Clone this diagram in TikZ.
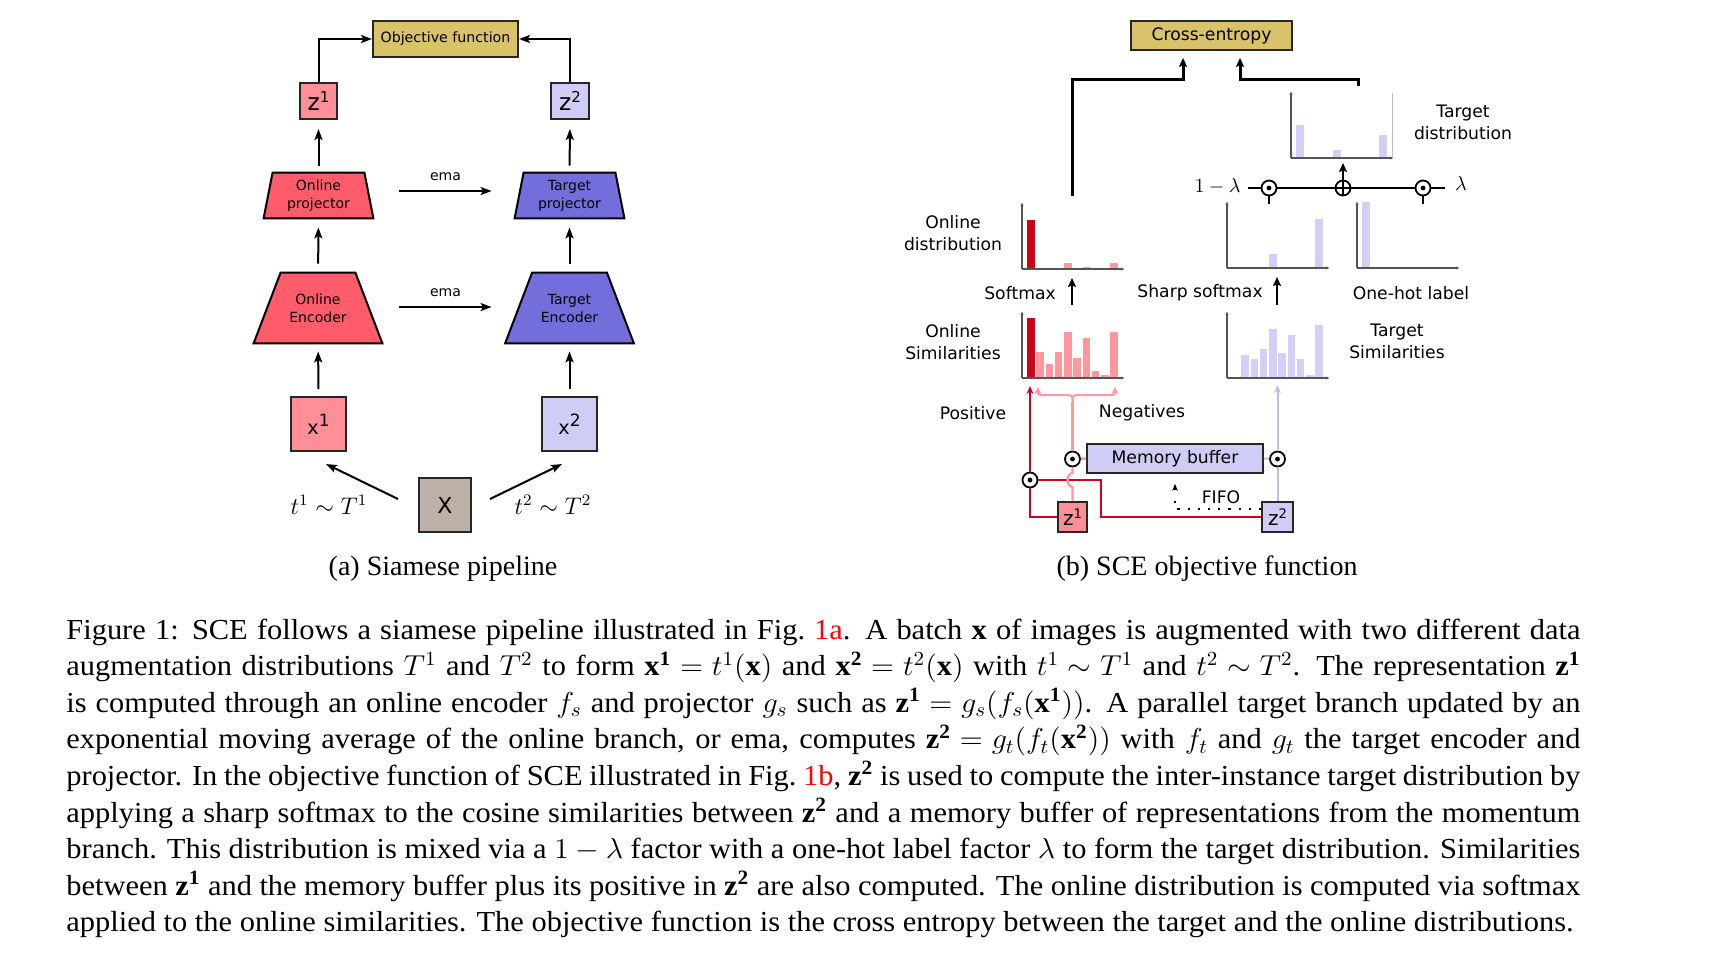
\documentclass[tikz,border=0pt]{standalone}
\usepackage{fontspec}
\setmainfont{Liberation Serif}
\newfontfamily\dvsans{DejaVu Sans}
\usetikzlibrary{arrows.meta,calc,backgrounds}
\definecolor{tanc}{RGB}{217,195,106}
\definecolor{pinkc}{RGB}{255,143,150}
\definecolor{lavc}{RGB}{207,205,245}
\definecolor{redtrap}{RGB}{255,92,107}
\definecolor{bluetrap}{RGB}{116,109,220}
\definecolor{grayc}{RGB}{188,176,168}
\definecolor{darkred}{RGB}{208,2,27}
\definecolor{lightred}{RGB}{255,152,158}
\definecolor{lavline}{RGB}{190,188,238}
\definecolor{lavbar}{RGB}{210,208,246}
\definecolor{axisc}{RGB}{85,85,85}
\newcommand\supr[3]{\raisebox{#2}{\fontsize{#1}{#1}\selectfont #3}}
\newcommand\drawbars[4]{\foreach \bi/\bh in {#4}{\fill[#3] ({#1+5+\bi*9.26},#2) rectangle ++(7.5,-\bh);}}
\newcommand\plotaxes[2]{\draw[axisl] (#1,#2) -- ++(0,-67); \draw[axisl] (#1,#2) -- ++(103,0);}
\tikzset{
  sbox/.style={draw=black!85, line width=1pt, inner sep=0pt, font=\dvsans\fontsize{7.1}{8.5}\selectfont},
  rbox/.style={draw=black!85, line width=0.9pt, inner sep=0pt, font=\dvsans\fontsize{8.6}{10}\selectfont},
  trapl/.style={inner sep=0pt, align=center, font=\dvsans\fontsize{7}{9}\selectfont},
  trapd/.style={draw=black, line width=1pt},
  arr/.style={line width=1pt, -{Stealth[length=5.5pt,width=4pt,inset=1.2pt]}},
  bigarr/.style={line width=1.5pt, -{Stealth[length=4.5pt,width=4pt,inset=0.8pt]}},
  medarr/.style={line width=1.3pt, -{Stealth[length=4.5pt,width=4pt,inset=0.8pt]}},
  axisl/.style={line width=0.55pt, draw=axisc, -{Latex[length=2pt,width=1.6pt]}},
  lbl/.style={inner sep=0pt, align=center, font=\dvsans\fontsize{8.6}{11}\selectfont},
  odot/.style={circle, draw, line width=0.9pt, fill=white, minimum size=7.5pt, inner sep=0pt,
    path picture={\fill[black] (path picture bounding box.center) circle (1.2pt);}},
  oplus/.style={circle, draw, line width=0.9pt, fill=white, minimum size=7.5pt, inner sep=0pt,
    path picture={\draw[black, line width=0.7pt] (path picture bounding box.north) -- (path picture bounding box.south) (path picture bounding box.west) -- (path picture bounding box.east);}},
  redl/.style={draw=darkred, line width=1.2pt},
  pinkl/.style={draw=lightred, line width=1.2pt},
  lavl/.style={draw=lavline, line width=1pt},
}
\begin{document}
\begin{tikzpicture}[x=0.5pt,y=-0.5pt]
\useasboundingbox (0,0) rectangle (1734,960);

% ================= (a) Siamese pipeline =================
\node[sbox, fill=tanc, minimum width=72.5pt, minimum height=18pt] (obj) at (445.5,39) {Objective function};
\node[sbox, fill=pinkc, minimum width=18.5pt, minimum height=18pt, font=\dvsans\fontsize{11.7}{12}\selectfont] (z1) at (318.5,101) {z\supr{7.5}{4pt}{1}};
\node[sbox, fill=lavc, minimum width=19pt, minimum height=18pt, font=\dvsans\fontsize{11.7}{12}\selectfont] (z2) at (570,101) {z\supr{7.5}{4pt}{2}};
\node[trapl, minimum width=54.5pt, minimum height=22.5pt] (proj1) at (318.5,195.5) {Online\\projector};
\node[trapl, minimum width=54.5pt, minimum height=22.5pt] (proj2) at (569.5,195.5) {Target\\projector};
\node[trapl, minimum width=64pt, minimum height=35pt] (enc1) at (318,308) {Online\\Encoder};
\node[trapl, minimum width=64pt, minimum height=35pt] (enc2) at (569.5,308) {Target\\Encoder};
\begin{scope}[on background layer]
\draw[trapd, fill=redtrap] (proj1.south west) -- (proj1.south east) -- ([xshift=-4.5pt]proj1.north east) -- ([xshift=4.5pt]proj1.north west) -- cycle;
\draw[trapd, fill=bluetrap] (proj2.south west) -- (proj2.south east) -- ([xshift=-4.5pt]proj2.north east) -- ([xshift=4.5pt]proj2.north west) -- cycle;
\draw[trapd, fill=redtrap] (enc1.south west) -- (enc1.south east) -- ([xshift=-13.5pt]enc1.north east) -- ([xshift=13.5pt]enc1.north west) -- cycle;
\draw[trapd, fill=bluetrap] (enc2.south west) -- (enc2.south east) -- ([xshift=-13.5pt]enc2.north east) -- ([xshift=13.5pt]enc2.north west) -- cycle;
\end{scope}
\node[sbox, fill=pinkc, minimum width=27.5pt, minimum height=27pt, font=\dvsans\fontsize{9.6}{11}\selectfont] (x1) at (318.5,424) {x\supr{8.5}{3.8pt}{1}};
\node[sbox, fill=lavc, minimum width=27.5pt, minimum height=27pt, font=\dvsans\fontsize{9.6}{11}\selectfont] (x2) at (569.5,424) {x\supr{8.5}{3.8pt}{2}};
\node[sbox, fill=grayc, minimum width=26pt, minimum height=27pt, font=\dvsans\fontsize{11}{12}\selectfont] (X) at (445,505) {X};

\draw[arr] (z1.north) |- (obj.west);
\draw[arr] (z2.north) |- (obj.east);
\draw[arr, shorten <=3.5pt, shorten >=4.5pt] (proj1) -- (z1);
\draw[arr, shorten <=3.5pt, shorten >=4.5pt] (proj2) -- (z2);
\draw[arr, shorten <=4.5pt, shorten >=4.5pt] (enc1) -- (proj1);
\draw[arr, shorten <=4.5pt, shorten >=4.5pt] (enc2) -- (proj2);
\draw[arr, shorten <=3.5pt, shorten >=4pt] (x1) -- (enc1);
\draw[arr, shorten <=3.5pt, shorten >=4pt] (x2) -- (enc2);
\draw[arr] ([xshift=13pt,yshift=2.25pt]proj1.east) -- ([xshift=-11.5pt,yshift=2.25pt]proj2.west)
  node[midway, above=4.5pt, inner sep=0pt, font=\dvsans\fontsize{7}{8}\selectfont] (ema1) {ema};
\draw[arr] ([xshift=8.5pt,yshift=0.5pt]enc1.east) -- ([xshift=-6.75pt,yshift=0.5pt]enc2.west)
  node[midway, above=4.5pt, inner sep=0pt, font=\dvsans\fontsize{7}{8}\selectfont] (ema2) {ema};
\draw[arr] ([xshift=-10pt,yshift=3pt]X.west) -- ([xshift=-10.5pt,yshift=-6pt]x1.south east);
\draw[arr] ([xshift=9pt,yshift=3pt]X.east) -- ([xshift=10.5pt,yshift=-6pt]x2.south west);
\node[font=\fontsize{12}{14}\selectfont, inner sep=0pt] (t1) at (329,505) {$t^1\sim T^1$};
\node[font=\fontsize{12}{14}\selectfont, inner sep=0pt] (t2) at (553,505) {$t^2\sim T^2$};
\node[anchor=base, inner sep=0pt, font=\fontsize{14}{16}\selectfont] (capa) at (443,575) {(a) Siamese pipeline};

% ================= (b) SCE objective function =================
\node[rbox, fill=tanc, minimum width=80.5pt, minimum height=14.5pt] (ce) at (1211.5,35.5) {Cross-entropy};
\node[rbox, fill=lavc, minimum width=88pt, minimum height=14.5pt] (mem) at (1175,458.5) {Memory buffer};
\node[rbox, fill=pinkc, minimum width=14.5pt, minimum height=15pt, font=\dvsans\fontsize{10}{11}\selectfont] (z1r) at (1072.5,517) {z\supr{6.6}{3.3pt}{1}};
\node[rbox, fill=lavc, minimum width=15.5pt, minimum height=15pt, font=\dvsans\fontsize{10}{11}\selectfont] (z2r) at (1277.5,517) {z\supr{6.6}{3.3pt}{2}};

% plots: bars
\drawbars{1022}{269}{darkred}{0/49}
\drawbars{1022}{269}{lightred}{4/6,6/2.3,9/6}
\drawbars{1022}{378}{darkred}{0/59.7}
\drawbars{1022}{378}{lightred}{1/26.3,2/13.7,3/26.3,4/46,5/19.7,6/40,7/7,8/3.3,9/46}
\drawbars{1227}{378}{lavbar}{1/22.7,2/19.3,3/29.3,4/49,5/25,6/43,7/19.3,8/3,9/52.7}
\drawbars{1227}{268}{lavbar}{4/13.7,6/1,9/49.3}
\drawbars{1357}{268}{lavbar}{0/66}
\drawbars{1291}{158}{lavbar}{0/32.7,4/8.3,6/1,9/23.3}
\plotaxes{1022}{269}
\plotaxes{1022}{378}
\plotaxes{1227}{378}
\plotaxes{1227}{268}
\plotaxes{1357}{268}
\plotaxes{1291}{158}
\draw[black!25, line width=0.5pt] (1392,93) -- (1392,158);

% coordinates of plot ends
\coordinate (odtop) at (1072,196);
\coordinate (tdtop) at (1358,86);
\coordinate (ceL) at ([xshift=-14.25pt]ce.south);
\coordinate (ceR) at ([xshift=14.25pt]ce.south);
\draw[bigarr, shorten >=3.5pt] (odtop) |- ([yshift=-14.5pt]ceL) -- (ceL);
\draw[bigarr, shorten >=3.5pt] (tdtop) |- ([yshift=-14.5pt]ceR) -- (ceR);

% mixing
\node[odot] (cm1) at (1269,188) {};
\node[oplus] (cpl) at (1343,188) {};
\node[odot] (cm2) at (1423,188) {};
\coordinate (mixL) at (1248,188);
\coordinate (mixR) at (1445,188);
\coordinate (tdbot) at (1343,163);
\draw[line width=1.3pt] (mixL) -- (cm1) -- (cpl) -- (cm2) -- (mixR);
\draw[line width=1.3pt] (cm1.south) -- ++(0,8);
\draw[line width=1.3pt] (cm2.south) -- ++(0,8);
\draw[medarr] (cpl.north) -- (tdbot);
\node[inner sep=0pt, anchor=east, font=\fontsize{10.4}{12}\selectfont] (oml) at (1241,186) {$1-\lambda$};
\node[inner sep=0pt, font=\fontsize{10.4}{12}\selectfont] (lam) at (1461,184) {$\lambda$};

% softmax arrows
\coordinate (osbot) at (1072,305);
\coordinate (odbot) at (1072,278);
\coordinate (tsbot) at (1277,305);
\coordinate (ssbot) at (1277,277);
\draw[medarr] (osbot) -- (odbot);
\draw[medarr] (tsbot) -- (ssbot);

% labels
\node[lbl] (lod) at (953,233) {Online\\distribution};
\node[lbl] (lsm) at (1020,293) {Softmax};
\node[lbl] (lssm) at (1200,293) {Sharp softmax};
\node[lbl] (loh) at (1411,293) {One-hot label};
\node[lbl] (los) at (953,342) {Online\\Similarities};
\node[lbl] (lts) at (1397,341) {Target\\Similarities};
\node[lbl] (ltd) at (1463,122) {Target\\distribution};
\node[lbl] (lpos) at (973,413) {Positive};
\node[lbl] (lneg) at (1142,413) {Negatives};
\node[lbl] (lfifo) at (1221,497) {FIFO};

% circle nodes for similarities
\node[odot] (cpos) at (1030,480) {};
\node[odot] (cneg) at (1072.5,459) {};
\node[odot] (ctgt) at (1277.5,459) {};
\coordinate (simpos) at (1030,386);
\coordinate (simneg) at (1072.5,402);
\coordinate (simtgt) at (1277.5,385);

% red (positive) paths
\draw[redl] (z1r.west) -| (cpos);
\draw[redl] (z2r.west) -- ([xshift=-80pt]z2r.west) |- (cpos);
\draw[redl, -{Stealth[length=4pt,width=3.5pt]}] (cpos) -- (simpos);

% pink (negative) paths
\draw[pinkl] (z1r.north) -- (1072.5,487) .. controls (1066,486) and (1066,474) .. (1072.5,473) -- (cneg);
\draw[pinkl] (mem.west) -- (cneg);
\draw[pinkl] (cneg) -- (simneg);
\draw[pinkl, line width=1pt, {Stealth[length=3.5pt,width=3.5pt]}-{Stealth[length=3.5pt,width=3.5pt]}]
  (1038,387) .. controls (1038,395) .. (1046,395) -- (1064,395) .. controls (1072.5,395) .. (simneg)
  .. controls (1072.5,395) .. (1081,395) -- (1107,395) .. controls (1115,395) .. (1115,387);

% lavender (target) paths
\draw[lavl] (z2r.north) -- (ctgt);
\draw[lavl] (mem.east) -- (ctgt);
\draw[lavl, -{Stealth[length=4pt,width=3.5pt]}] (ctgt) -- (simtgt);

% FIFO
\coordinate (fifoc) at (1175,509);
\draw[line width=1.1pt, dash pattern=on 1.1pt off 4pt] ([yshift=4pt]z2r.west) -- (fifoc) -- ++(0,-12);
\draw[line width=0.6pt, -{Stealth[length=3.5pt,width=2.8pt]}] (1175,490) -- ([yshift=-5pt]mem.south -| fifoc);

\node[anchor=base, inner sep=0pt, font=\fontsize{14}{16}\selectfont] (capb) at (1207,575) {(b) SCE objective function};

% ================= caption =================
\node[anchor=base west, inner sep=0pt, font=\fontsize{14.5}{18.3}\selectfont] (cap) at (66,639) {\scalebox{1.05}[1]{\parbox[t]{721pt}{\raggedright\rightskip=0pt plus 0pt\spaceskip=0.25em plus 0.3em minus 0.08em\parfillskip=0pt plus 1fil\thickmuskip=5mu plus 1mu\medmuskip=4mu plus 1mu minus 2mu Figure 1: SCE follows a siamese pipeline illustrated in Fig.~\textcolor{red}{1a}. A batch $\mathbf{x}$ of images is augmented with two different data\linebreak
augmentation distributions $T^1$ and $T^2$ to form $\mathbf{x^1}=t^1(\mathbf{x})$ and $\mathbf{x^2}=t^2(\mathbf{x})$ with $t^1\sim T^1$ and $t^2\sim T^2$. The representation $\mathbf{z^1}$\linebreak
is computed through an online encoder $f_s$ and projector $g_s$ such as $\mathbf{z^1}=g_s(f_s(\mathbf{x^1}))$. A parallel target branch updated by an\linebreak
exponential moving average of the online branch, or ema, computes $\mathbf{z^2}=g_t(f_t(\mathbf{x^2}))$ with $f_t$ and $g_t$ the target encoder and\linebreak
projector. In the objective function of SCE illustrated in Fig.~\textcolor{red}{1b}, $\mathbf{z^2}$ is used to compute the inter-instance target distribution by\linebreak
applying a sharp softmax to the cosine similarities between $\mathbf{z^2}$ and a memory buffer of representations from the momentum\linebreak
branch. This distribution is mixed via a $1-\lambda$ factor with a one-hot label factor $\lambda$ to form the target distribution. Similarities\linebreak
between $\mathbf{z^1}$ and the memory buffer plus its positive in $\mathbf{z^2}$ are also computed. The online distribution is computed via softmax\linebreak
applied to the online similarities. The objective function is the cross entropy between the target and the online distributions.}}};
\end{tikzpicture}
\end{document}
